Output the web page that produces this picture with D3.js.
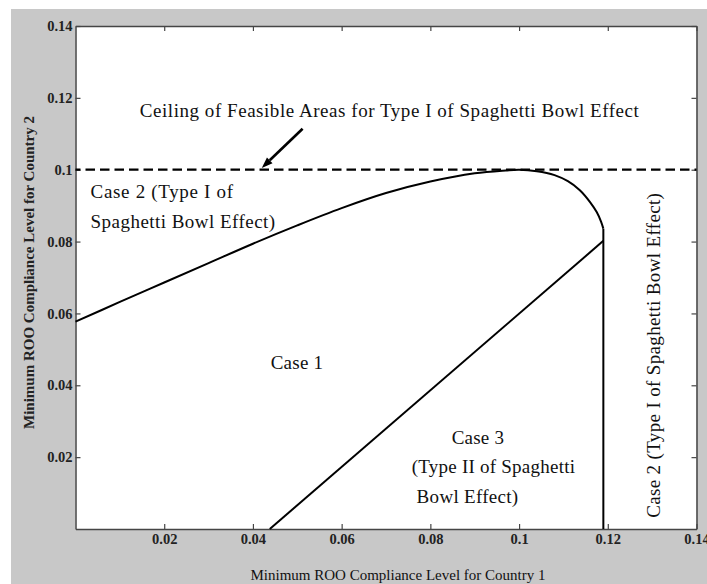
<!DOCTYPE html>
<html>
<head>
<meta charset="utf-8">
<script src="https://cdn.jsdelivr.net/npm/d3@7"></script>
<style>
  body { margin: 0; background: #fff; }
  svg { display: block; }
</style>
</head>
<body>
<div id="plot"></div>
<script>
// values (both axes: minimum ROO compliance level)
const boundaryX = [0, 0.01, 0.02, 0.03, 0.04, 0.05, 0.06, 0.07, 0.08, 0.09, 0.097, 0.1, 0.104, 0.108, 0.111, 0.1137, 0.116, 0.1175, 0.1185, 0.119];
const boundaryY = [0.0577, 0.0632, 0.0686, 0.074, 0.0794, 0.0845, 0.0893, 0.0935, 0.0967, 0.099, 0.0998, 0.1, 0.0996, 0.0985, 0.0968, 0.0943, 0.091, 0.0882, 0.0855, 0.0836];
const verticalX = [0.119, 0.119];
const verticalY = [0.0836, 0];
const diagonalX = [0.0438, 0.119];
const diagonalY = [0, 0.0802];
const ceiling = 0.1;

const tickValues = [0.02, 0.04, 0.06, 0.08, 0.1, 0.12, 0.14];
const tickLabels = ["0.02", "0.04", "0.06", "0.08", "0.1", "0.12", "0.14"];
const xTitle = "Minimum ROO Compliance Level for Country 1";
const yTitle = "Minimum ROO Compliance Level for Country 2";

// annotation text, anchored in data units: [text, x, y, x at end of line]
const notes = [
  ["Ceiling of Feasible Areas for Type I of Spaghetti Bowl Effect", 0.0145, 0.1147, 0.127],
  ["Case 2 (Type I of", 0.0034, 0.092, 0.0355],
  ["Spaghetti Bowl Effect)", 0.0034, 0.0837, 0.045],
  ["Case 1", 0.044, 0.0445, 0.0558],
  ["Case 3", 0.0848, 0.0237, 0.0966],
  ["(Type II of Spaghetti", 0.0758, 0.0155, 0.1126],
  ["Bowl Effect)", 0.0769, 0.0073, 0.0998]
];
const sideNote = ["Case 2 (Type I of Spaghetti Bowl Effect)", 0.1318, 0.0031, 0.0935];
const arrowFrom = [0.0512, 0.1114];
const arrowTo = [0.042, 0.1005];

const width = 707, height = 584;
const plotLeft = 75.5, plotRight = 696.5, plotTop = 26, plotBottom = 529;
const serif = "'Liberation Serif', 'Times New Roman', serif";

const svg = d3.select("#plot").append("svg")
  .attr("width", width)
  .attr("height", height);

// grey figure background
svg.append("rect")
  .attr("x", 11).attr("y", 9)
  .attr("width", width - 11).attr("height", height - 9)
  .attr("fill", "#c8c8c8");

svg.append("rect")
  .attr("x", plotLeft).attr("y", plotTop)
  .attr("width", plotRight - plotLeft).attr("height", plotBottom - plotTop)
  .attr("fill", "#fff");

const xScale = d3.scaleLinear().domain([0, 0.14]).range([plotLeft, plotRight]);
const yScale = d3.scaleLinear().domain([0, 0.14]).range([plotBottom, plotTop]);

const fmt = d => tickLabels[tickValues.indexOf(d)];

function styleAxis(g) {
  g.select(".domain").attr("stroke", "#454545").attr("stroke-width", 1.5);
  g.selectAll(".tick line").attr("stroke", "#454545").attr("stroke-width", 1.2);
  g.selectAll("text")
    .attr("fill", "#222")
    .style("font-family", serif)
    .style("font-size", "14.5px")
    .style("font-weight", "bold");
}

svg.append("g")
  .attr("transform", `translate(0,${plotBottom})`)
  .call(d3.axisBottom(xScale).tickValues(tickValues).tickFormat(fmt)
    .tickSizeInner(-5).tickSizeOuter(0).tickPadding(5))
  .call(styleAxis);

svg.append("g")
  .attr("transform", `translate(${plotLeft},0)`)
  .call(d3.axisLeft(yScale).tickValues(tickValues).tickFormat(fmt)
    .tickSizeInner(-5).tickSizeOuter(0).tickPadding(3))
  .call(styleAxis);

svg.append("g")
  .attr("transform", `translate(0,${plotTop})`)
  .call(d3.axisTop(xScale).tickValues(tickValues).tickFormat("")
    .tickSizeInner(-5).tickSizeOuter(0))
  .call(styleAxis);

svg.append("g")
  .attr("transform", `translate(${plotRight},0)`)
  .call(d3.axisRight(yScale).tickValues(tickValues).tickFormat("")
    .tickSizeInner(-5).tickSizeOuter(0))
  .call(styleAxis);

// ceiling line
svg.append("line")
  .attr("x1", xScale(0)).attr("x2", xScale(0.14))
  .attr("y1", yScale(ceiling)).attr("y2", yScale(ceiling))
  .attr("stroke", "#000")
  .attr("stroke-width", 2.2)
  .attr("stroke-dasharray", "9.5,5")
  .attr("stroke-dashoffset", 4.5);

const line = d3.line()
  .x(d => xScale(d[0]))
  .y(d => yScale(d[1]));

svg.append("path")
  .datum(d3.zip(boundaryX, boundaryY))
  .attr("d", line.curve(d3.curveCatmullRom.alpha(0.5)))
  .attr("fill", "none")
  .attr("stroke", "#000")
  .attr("stroke-width", 2);

line.curve(d3.curveLinear);

svg.append("path")
  .datum(d3.zip(verticalX, verticalY))
  .attr("d", line)
  .attr("fill", "none")
  .attr("stroke", "#000")
  .attr("stroke-width", 2);

svg.append("path")
  .datum(d3.zip(diagonalX, diagonalY))
  .attr("d", line)
  .attr("fill", "none")
  .attr("stroke", "#000")
  .attr("stroke-width", 2);

// arrow
let ax0 = xScale(arrowFrom[0]), ay0 = yScale(arrowFrom[1]);
let ax1 = xScale(arrowTo[0]), ay1 = yScale(arrowTo[1]);
let ang = Math.atan2(ay1 - ay0, ax1 - ax0);
let headLen = 11, headW = 4;
let bx = ax1 - headLen * Math.cos(ang), by = ay1 - headLen * Math.sin(ang);
svg.append("line")
  .attr("x1", ax0).attr("y1", ay0)
  .attr("x2", bx).attr("y2", by)
  .attr("stroke", "#000")
  .attr("stroke-width", 2.6);
svg.append("path")
  .attr("d", `M${ax1},${ay1}L${bx + headW * Math.sin(ang)},${by - headW * Math.cos(ang)}L${bx - headW * Math.sin(ang)},${by + headW * Math.cos(ang)}Z`)
  .attr("fill", "#000");

// annotations
svg.selectAll("text.note")
  .data(notes)
  .enter()
  .append("text")
  .attr("class", "note")
  .attr("x", d => xScale(d[1]))
  .attr("y", d => yScale(d[2]))
  .attr("textLength", d => xScale(d[3]) - xScale(d[1]))
  .attr("lengthAdjust", "spacing")
  .style("font-family", serif)
  .style("font-size", "19px")
  .attr("fill", "#111")
  .text(d => d[0]);

svg.append("text")
  .attr("transform", `translate(${xScale(sideNote[1])},${yScale(sideNote[2])}) rotate(-90)`)
  .attr("textLength", yScale(sideNote[2]) - yScale(sideNote[3]))
  .attr("lengthAdjust", "spacing")
  .style("font-family", serif)
  .style("font-size", "19px")
  .attr("fill", "#111")
  .text(sideNote[0]);

// axis titles
svg.append("text")
  .attr("x", (plotLeft + plotRight) / 2 + 12)
  .attr("y", 580)
  .attr("text-anchor", "middle")
  .style("font-family", serif)
  .style("font-size", "15px")
  .attr("fill", "#111")
  .text(xTitle);

svg.append("text")
  .attr("transform", `translate(34,${(plotTop + plotBottom) / 2 - 5}) rotate(-90)`)
  .attr("text-anchor", "middle")
  .style("font-family", serif)
  .style("font-size", "15px")
  .style("font-weight", "bold")
  .attr("fill", "#222")
  .text(yTitle);
</script>
</body>
</html>
